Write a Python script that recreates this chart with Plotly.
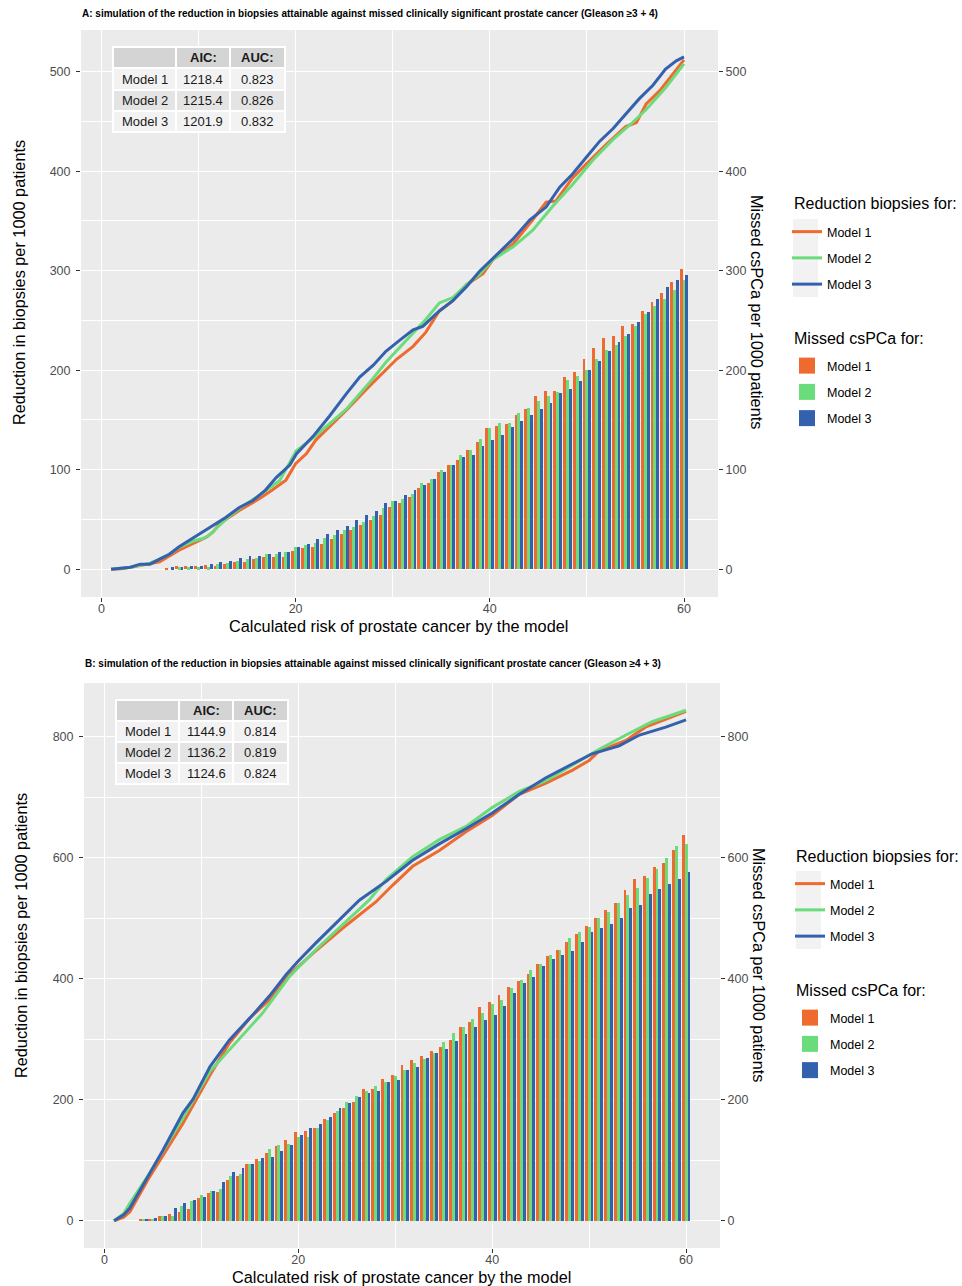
import plotly.graph_objects as go

W, H = 962, 1286

models = ["Model 1", "Model 2", "Model 3"]
colors = ["#EE6A2F", "#6BDC7C", "#3461AE"]

# ---------------- Panel A data ----------------
titleA = "A: simulation of the reduction in biopsies attainable against missed clinically significant prostate cancer (Gleason \u22653 + 4)"
aicA = ["1218.4", "1215.4", "1201.9"]
aucA = ["0.823", "0.826", "0.832"]

barA_x = list(range(7, 61))
missA_m1 = [1, 3, 3, 3, 4, 3, 5, 7, 7, 10, 12, 12, 12, 18, 21, 22, 25, 30, 35, 39, 44, 49, 54, 62, 66, 73, 82, 87,
            98, 105, 110, 120, 128, 142, 144, 146, 155, 161, 174, 179, 179, 193, 198, 211, 222, 232, 234, 244,
            246, 260, 269, 278, 289, 302]
missA_m2 = [0, 2, 2, 2, 2, 5, 6, 8, 10, 11, 15, 15, 17, 22, 24, 26, 31, 34, 39, 42, 47, 53, 61, 69, 71, 76, 87, 91,
            100, 105, 115, 120, 131, 142, 147, 147, 157, 162, 169, 174, 178, 190, 194, 200, 211, 220, 225, 234,
            244, 257, 265, 272, 281, 291]
missA_m3 = [2, 2, 3, 3, 5, 7, 8, 11, 13, 13, 15, 17, 17, 22, 25, 30, 35, 39, 43, 49, 54, 58, 66, 69, 75, 80, 85, 91,
            98, 105, 113, 115, 124, 130, 135, 143, 149, 155, 161, 167, 177, 181, 189, 200, 209, 219, 228, 236,
            248, 259, 272, 284, 291, 296]

redA_m1_x = [1, 2, 3, 4, 5, 6, 8, 10.8, 11.5, 12.2, 14.2, 16.3, 17.6, 19.0, 20.0, 21.1, 22.1, 23.8, 25.2, 27.3,
             29.3, 30.4, 32.1, 33.4, 34.8, 36.2, 37.6, 39.3, 40.3, 42.4, 44.4, 45.8, 46.8, 48.5, 49.9, 52.0, 54.0,
             55.1, 56.1, 57.5, 58.8, 60]
redA_m1_y = [0, 0.5, 2, 4, 6, 7.4, 19, 32, 37.5, 46, 59, 71, 79.5, 89.5, 106, 116, 130, 146, 159.5, 181, 200, 211,
             224, 238, 259.5, 270, 286, 297, 311, 327, 351, 369, 370, 393, 407, 427, 445, 449, 467.6, 481, 497, 512]
redA_m2_x = [1, 2, 3, 4, 5, 6, 7, 8, 9.4, 10.5, 11.1, 12.8, 14.2, 16.3, 18.35, 20.07, 21.8, 25.2, 28.0, 29.3, 30.7,
             32.1, 33.4, 34.8, 36.2, 37.6, 38.9, 40.3, 42.4, 44.4, 46.5, 48.5, 50.6, 52.7, 54.7, 56.1, 58.1, 60]
redA_m2_y = [0, 1, 2, 4, 6, 10, 15, 22, 28, 31, 34, 50, 61, 74.5, 89, 119, 132, 160.5, 192, 208, 223, 238, 251,
             267.6, 273, 286, 296, 311, 324, 340.5, 365, 386.5, 411, 432, 449, 462, 484, 508]
redA_m3_x = [1, 2, 3, 4, 5, 6, 7, 8, 9.4, 11.1, 12.8, 14.2, 15.6, 16.9, 18.0, 19.4, 20.1, 21.8, 23.5, 25.2, 26.6,
             28.0, 29.3, 30.7, 32.1, 33.1, 34.8, 36.2, 37.6, 38.9, 40.3, 42.4, 44.1, 45.8, 47.2, 48.5, 49.9, 51.3,
             52.7, 54.0, 55.4, 56.8, 58.1, 59.2, 60]
redA_m3_y = [0, 1, 2, 5, 5, 10, 15, 22.5, 31, 41, 52, 62, 69, 79.5, 92, 104.6, 116, 133.5, 154, 176, 193, 205, 219,
             230, 240.5, 244, 259.5, 270, 284, 299, 312, 332, 351, 364, 384, 397, 413.5, 430, 443, 457, 473, 486.5,
             502.7, 511, 515]

# ---------------- Panel B data ----------------
titleB = "B: simulation of the reduction in biopsies attainable against missed clinically significant prostate cancer (Gleason \u22654 + 3)"
aicB = ["1144.9", "1136.2", "1124.6"]
aucB = ["0.814", "0.819", "0.824"]

barB_x = list(range(4, 61))
missB_m1 = [2, 3, 8, 12, 14, 19, 37, 46, 48, 68, 74, 94, 102, 112, 123, 133, 147, 149, 154, 168, 178, 186, 197,
            218, 218, 234, 241, 258, 265, 273, 280, 288, 299, 321, 328, 353, 361, 374, 387, 396, 408, 424, 437,
            448, 461, 474, 488, 500, 514, 525, 547, 565, 570, 585, 591, 613, 637]
missB_m2 = [2, 3, 8, 8, 25, 32, 43, 50, 52, 74, 78, 94, 99, 118, 125, 127, 138, 138, 154, 167, 182, 197, 207,
            215, 223, 230, 239, 250, 261, 267, 277, 296, 310, 321, 334, 343, 358, 365, 384, 398, 414, 424, 440,
            448, 467, 477, 485, 500, 511, 525, 538, 550, 566, 581, 599, 620, 623]
missB_m3 = [3, 5, 8, 21, 29, 35, 40, 50, 64, 80, 88, 94, 103, 106, 116, 125, 142, 154, 160, 172, 186, 194, 204,
            212, 215, 229, 233, 250, 255, 269, 278, 284, 297, 309, 321, 332, 340, 355, 377, 393, 403, 421, 432,
            440, 446, 461, 477, 484, 491, 500, 517, 522, 540, 548, 556, 565, 576]

redB_m1_x = [1, 2, 2.63, 4.68, 8.1, 10.9, 12.9, 15.0, 17.0, 19.1, 21.5, 24.6, 28.0, 29.75, 31.8, 34.55, 37.3, 40,
             42.8, 45.5, 48.3, 50, 51, 53.8, 55.8, 57.9, 60]
redB_m1_y = [0, 6, 15, 73, 161, 241, 294, 335, 365, 407, 442, 484, 527, 555, 586, 612, 643, 670, 705, 723, 745,
             761, 776, 794, 816, 829, 842]
redB_m2_x = [1, 2, 2.63, 4.68, 8.1, 10.9, 16.3, 19.1, 21.8, 27.3, 29.06, 31.8, 34.55, 37.3, 40, 42.8, 45.5, 48.3,
             51, 53.8, 56.5, 60]
redB_m2_y = [0, 12, 29, 79, 170, 247, 343, 404, 448, 530, 564, 602, 630, 652, 683, 710, 727, 754, 779, 803, 825,
             844]
redB_m3_x = [1, 2, 2.63, 4.68, 6.06, 8.1, 9.15, 10.9, 12.9, 15.0, 17.0, 18.76, 20.1, 21.8, 23.9, 26.3, 29.06, 31.8,
             34.55, 37.3, 40.0, 42.8, 45.5, 48.3, 50.3, 53.1, 55.2, 57.9, 60]
redB_m3_y = [0, 10, 21, 79, 117, 178, 201, 255, 299, 335, 371, 407, 431, 459, 492, 530, 561, 596, 623, 648, 674,
             705, 732, 756, 772, 785, 803, 816, 828]

table_header = ["", "AIC:", "AUC:"]
legend_line_title = "Reduction biopsies for:"
legend_bar_title = "Missed csPCa for:"
x_title = "Calculated risk of prostate cancer by the model"
y_left_title = "Reduction in biopsies per 1000 patients"
y_right_title = "Missed csPCa per 1000 patients"
x_ticks = [0, 20, 40, 60]

FONT = "Liberation Sans, Arial, sans-serif"
TICKC = "#4D4D4D"


def px(xp):
    return xp / W


def py(yp):
    return 1 - yp / H


fig = go.Figure()

panels = [
    dict(xa="x", ya="y", ya2="y2", bx=barA_x, bars=[missA_m1, missA_m2, missA_m3],
         lines=[(redA_m1_x, redA_m1_y), (redA_m2_x, redA_m2_y), (redA_m3_x, redA_m3_y)],
         leg_l="legend", leg_b="legend2", tag="A"),
    dict(xa="x2", ya="y3", ya2="y4", bx=barB_x, bars=[missB_m1, missB_m2, missB_m3],
         lines=[(redB_m1_x, redB_m1_y), (redB_m2_x, redB_m2_y), (redB_m3_x, redB_m3_y)],
         leg_l="legend3", leg_b="legend4", tag="B"),
]

offsets = [-0.45, -0.15, 0.15]
for p in panels:
    for i, m in enumerate(models):
        fig.add_trace(go.Bar(
            x=p["bx"], y=p["bars"][i], name=m, xaxis=p["xa"], yaxis=p["ya"],
            width=0.3, offset=offsets[i], marker=dict(color=colors[i], line=dict(width=0)),
            showlegend=False))
        # legend key (filled square) for the bar series
        fig.add_trace(go.Scatter(
            x=[None], y=[None], mode="markers", name=m, xaxis=p["xa"], yaxis=p["ya"],
            marker=dict(symbol="square", size=22, color=colors[i], line=dict(width=0)),
            legend=p["leg_b"], legendgroup=p["tag"] + "b" + m, showlegend=True, hoverinfo="skip"))
    for i, m in enumerate(models):
        lx, ly = p["lines"][i]
        fig.add_trace(go.Scatter(
            x=lx, y=ly, mode="lines", name=m, xaxis=p["xa"], yaxis=p["ya"],
            line=dict(color=colors[i], width=3), legend=p["leg_l"],
            legendgroup=p["tag"] + "l" + m, showlegend=True))
    fig.add_trace(go.Scatter(x=[None], y=[None], xaxis=p["xa"], yaxis=p["ya2"],
                             showlegend=False, hoverinfo="skip"))

shapes = []
annotations = []

# AIC/AUC tables drawn as layout cells (pixel geometry of the reference)
tables = [
    dict(cols=[113, 176, 230, 285], rows=[47, 68, 90, 111, 132], aic=aicA, auc=aucA),
    dict(cols=[116, 179, 233, 288], rows=[700, 721, 742, 763, 784], aic=aicB, auc=aucB),
]
row_fills = ["#D4D4D4", "#F2F2F2", "#E4E4E4", "#F2F2F2"]
for t in tables:
    c, r = t["cols"], t["rows"]
    content = [table_header] + [[models[i], t["aic"][i], t["auc"][i]] for i in range(3)]
    for ri in range(4):
        for ci in range(3):
            shapes.append(dict(type="rect", xref="paper", yref="paper", layer="above",
                               x0=px(c[ci]), x1=px(c[ci + 1]), y0=py(r[ri + 1]), y1=py(r[ri]),
                               fillcolor=row_fills[ri], line=dict(color="white", width=2)))
            txt = content[ri][ci]
            if not txt:
                continue
            if ri == 0:
                txt = "<b>" + txt + "</b>"
            if ci == 0:
                xx, xa = px(c[0] + 7), "left"
            else:
                xx, xa = px((c[ci] + c[ci + 1]) / 2), "center"
            annotations.append(dict(text=txt, x=xx, y=py((r[ri] + r[ri + 1]) / 2), xref="paper", yref="paper",
                                    xanchor=xa, yanchor="middle", showarrow=False,
                                    font=dict(family=FONT, size=13, color="#1A1A1A")))

# light grey key backgrounds of the line legends (ggplot legend keys)
for x0, y0, y1 in [(793, 219, 297), (796, 871, 949)]:
    shapes.append(dict(type="rect", xref="paper", yref="paper", layer="below",
                       x0=px(x0), x1=px(x0 + 25), y0=py(y1), y1=py(y0),
                       fillcolor="#F2F2F2", line=dict(width=0)))


def xaxis_cfg(d0, d1, anchor):
    return dict(domain=[px(d0), px(d1)], range=[-2.1, 63.5], anchor=anchor, tickvals=x_ticks,
                showgrid=True, gridcolor="white", gridwidth=1.2, zeroline=False, showline=False,
                ticks="outside", ticklen=4, tickcolor="#333333", tickwidth=1, ticklabelstandoff=-4,
                tickfont=dict(family=FONT, size=12.5, color=TICKC),
                minor=dict(dtick=10, tick0=0, showgrid=True, gridcolor="white", gridwidth=0.6, ticks=""),
                fixedrange=True)


def yaxis_cfg(d0, d1, anchor, rng, dtick, minor, side="left", overlaying=None):
    cfg = dict(domain=[py(d1), py(d0)], range=rng, anchor=anchor, dtick=dtick, tick0=0,
               zeroline=False, showline=False, ticks="outside", ticklen=4, tickcolor="#333333",
               tickwidth=1, tickfont=dict(family=FONT, size=12.5, color=TICKC), side=side,
               fixedrange=True)
    if overlaying:
        cfg.update(overlaying=overlaying, showgrid=False)
    else:
        cfg.update(showgrid=True, gridcolor="white", gridwidth=1.2, ticklabelstandoff=3,
                   minor=dict(dtick=minor, tick0=0, showgrid=True, gridcolor="white", gridwidth=0.6, ticks=""))
    return cfg


def legend_cfg(top, left):
    return dict(x=px(left), xanchor="left", y=py(top), yanchor="top",
                font=dict(family=FONT, size=12.5, color="black"), bgcolor="rgba(0,0,0,0)",
                traceorder="grouped", tracegroupgap=7, itemclick=False, itemdoubleclick=False,
                itemsizing="trace")


def note(text, x, y, size, xa="center", ya="middle", angle=0, bold=False):
    return dict(text=("<b>" + text + "</b>") if bold else text, x=px(x), y=py(y), xref="paper", yref="paper",
                xanchor=xa, yanchor=ya, showarrow=False, textangle=angle,
                font=dict(family=FONT, size=size, color="black"))


annotations += [
    note(titleA, 80, 14, 10, xa="left", bold=True),
    note(titleB, 83, 663, 10, xa="left", bold=True),
    note(x_title, 398, 626, 16.3),
    note(x_title, 401, 1277, 16.3),
    note(y_left_title, 19, 283, 16.3, angle=-90),
    note(y_left_title, 21, 936, 16.3, angle=-90),
    note(y_right_title, 757, 312, 16.3, angle=90),
    note(y_right_title, 759, 965, 16.3, angle=90),
    note(legend_line_title, 792, 204, 16, xa="left"),
    note(legend_bar_title, 792, 338, 16, xa="left"),
    note(legend_line_title, 794, 856, 16, xa="left"),
    note(legend_bar_title, 794, 990, 16, xa="left"),
]

fig.update_layout(
    width=W, height=H, margin=dict(l=0, r=0, t=0, b=0, pad=0),
    paper_bgcolor="white", plot_bgcolor="#EBEBEB", barmode="overlay", bargap=0,
    font=dict(family=FONT, color="black"),
    xaxis=xaxis_cfg(81, 718, "y"),
    yaxis=yaxis_cfg(30, 597, "x", [-28, 542], 100, 50),
    yaxis2=yaxis_cfg(30, 597, "x", [-28, 542], 100, 50, side="right", overlaying="y"),
    xaxis2=xaxis_cfg(84, 720, "y3"),
    yaxis3=yaxis_cfg(683, 1248, "x2", [-45, 889], 200, 100),
    yaxis4=yaxis_cfg(683, 1248, "x2", [-45, 889], 200, 100, side="right", overlaying="y3"),
    legend=legend_cfg(217, 787),
    legend2=legend_cfg(351, 787),
    legend3=legend_cfg(869, 790),
    legend4=legend_cfg(1003, 790),
    shapes=shapes,
    annotations=annotations,
    showlegend=True,
)

# remove the browser's default 8px body margin so the figure fills the window exactly
fig.write_html("out.html", config={"displayModeBar": False},
               post_script="document.body.style.margin='0';")
